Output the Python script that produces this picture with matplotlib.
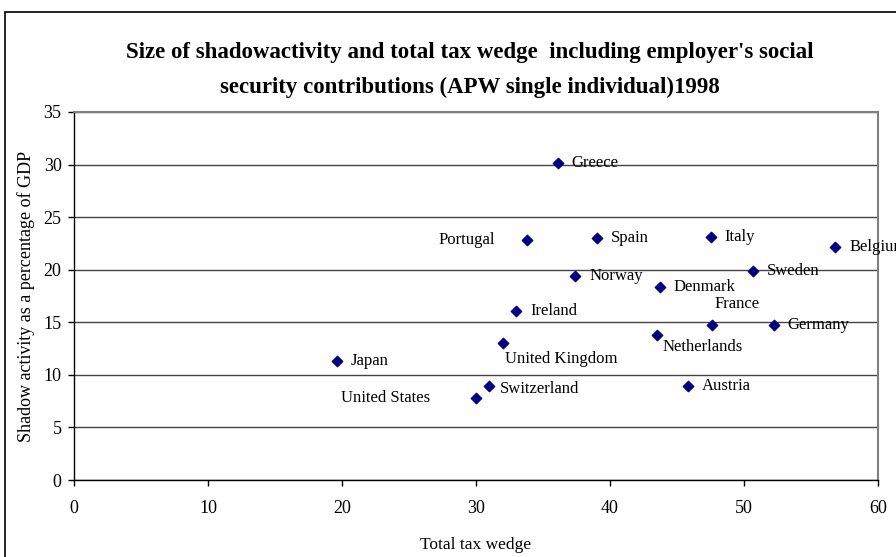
import numpy as np
import matplotlib.pyplot as plt
from matplotlib.patches import Rectangle

countries = ["Japan", "United States", "Switzerland", "United Kingdom", "Portugal",
             "Ireland", "Greece", "Norway", "Spain", "Netherlands", "Denmark",
             "Austria", "Italy", "France", "Sweden", "Germany", "Belgium"]
tax_wedge = [19.6, 30.0, 31.0, 32.0, 33.8, 33.0, 36.1, 37.4, 39.0, 43.5, 43.7,
             45.8, 47.5, 47.6, 50.7, 52.2, 56.8]
shadow = [11.3, 7.8, 8.9, 13.0, 22.8, 16.1, 30.1, 19.4, 23.0, 13.8, 18.4,
          8.9, 23.1, 14.7, 19.9, 14.7, 22.2]

# label placement (offset in points, horizontal alignment)
label_pos = {
    "United States": ((-33, 0), "right"),
    "Portugal": ((-23, 0), "right"),
    "United Kingdom": ((1.5, -11.3), "left"),
    "Netherlands": ((3.8, -8.6), "left"),
    "France": ((1.7, 15.6), "left"),
    "Switzerland": ((7.4, -1.7), "left"),
}

plt.rcParams['font.family'] = ['Liberation Serif', 'DejaVu Serif']

fig = plt.figure(figsize=(8.96, 5.57), dpi=100)
ax = fig.add_axes([0.0826, 0.1382, 0.8974, 0.6608])

ax.scatter(tax_wedge, shadow, marker='D', s=28, color='#000080', zorder=3)

for name, x, y in zip(countries, tax_wedge, shadow):
    off, ha = label_pos.get(name, ((10, 0), "left"))
    ax.annotate(name, (x, y), xytext=off, textcoords='offset points',
                ha=ha, va='center', fontsize=12, annotation_clip=False,
                clip_on=False)

ax.set_xlim(0, 60)
ax.set_ylim(0, 35)
ax.set_xticks(np.arange(0, 61, 10))
ax.set_yticks(np.arange(0, 36, 5))
ax.tick_params(labelsize=13, direction='out', length=4.5, width=1, color='black')
ax.tick_params(axis='x', pad=10)
ax.tick_params(axis='y', pad=4.5)
ax.yaxis.grid(True, color='#444444', linewidth=1)
ax.set_axisbelow(True)
for s in ['top', 'right']:
    ax.spines[s].set_color('#808080')
    ax.spines[s].set_linewidth(1.5)
for s in ['left', 'bottom']:
    ax.spines[s].set_color('black')
    ax.spines[s].set_linewidth(1)

ax.set_xlabel("Total tax wedge", fontsize=12.5, labelpad=14)
ax.set_ylabel("Shadow activity as a percentage of GDP", fontsize=13, labelpad=6)

fig.text(0.524, 0.874, "Size of shadowactivity and total tax wedge  including employer's social\nsecurity contributions (APW single individual)1998",
         ha='center', va='center', fontsize=16.5, fontweight='bold', linespacing=1.85)

fig.patches.append(Rectangle((0.0056, -0.1), 1.2, 1.0785, transform=fig.transFigure,
                             fill=False, edgecolor='black', linewidth=1.2))

fig.savefig("out.png", dpi=100)
